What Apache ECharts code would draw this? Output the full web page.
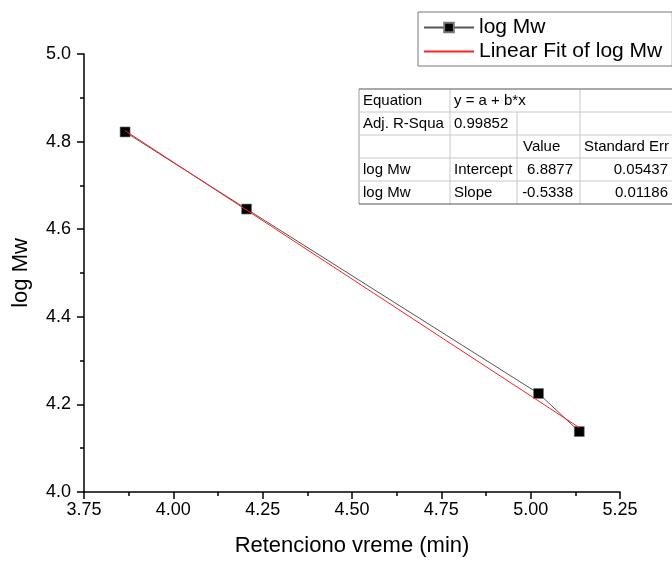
<!DOCTYPE html>
<html>
<head>
<meta charset="utf-8">
<script src="https://cdn.jsdelivr.net/npm/echarts@6/dist/echarts.min.js"></script>
<style>html,body{margin:0;padding:0;background:#fff}#c{width:672px;height:562px}</style>
</head>
<body>
<div id="c"></div>
<script>
// Data
var retentionTime = [3.865, 4.205, 5.022, 5.136];
var logMw = [4.822, 4.646, 4.225, 4.138];
var fitX = [3.865, 5.136];
var fitY = [4.825, 4.147];
var seriesNames = ['log Mw', 'Linear Fit of log Mw'];
var tableRows = [
  ['Equation', 'y = a + b*x', '', ''],
  ['Adj. R-Squa', '0.99852', '', ''],
  ['', '', 'Value', 'Standard Err'],
  ['log Mw', 'Intercept', '6.8877', '0.05437'],
  ['log Mw', 'Slope', '-0.5338', '0.01186']
];

var FONT = "'Liberation Sans', Arial, sans-serif";
var chart = echarts.init(document.getElementById('c'), null, {renderer: 'canvas'});

// Table layout
var colX = [359, 450, 517, 580, 720];
var rowY = [89, 112, 135, 158, 181, 204];
var g = [];
g.push({type: 'rect', shape: {x: colX[0], y: rowY[0], width: colX[4] - colX[0], height: rowY[5] - rowY[0]}, style: {fill: '#fff'}, z: 50});
for (var r = 0; r < rowY.length; r++) {
  var col = (r === 0 || r === rowY.length - 1) ? '#555' : '#c8c8c8';
  g.push({type: 'line', shape: {x1: colX[0], y1: rowY[r], x2: colX[4], y2: rowY[r]}, style: {stroke: col, lineWidth: 1}, z: 52});
}
[[0, 0], [1, 0], [2, 1], [3, 0]].forEach(function (v) {
  g.push({type: 'line', shape: {x1: colX[v[0]], y1: rowY[v[1]], x2: colX[v[0]], y2: rowY[5]}, style: {stroke: v[0] === 0 ? '#999' : '#c8c8c8', lineWidth: 1}, z: 51});
});
tableRows.forEach(function (row, ri) {
  row.forEach(function (txt, ci) {
    if (!txt) return;
    var isNum = ci >= 2 && !isNaN(parseFloat(txt));
    var x = isNum ? (ci === 2 ? 573 : 668) : colX[ci] + (ci === 2 ? 6 : 4);
    g.push({type: 'text', x: x, y: (rowY[ri] + rowY[ri + 1]) / 2, z: 53,
      style: {text: txt, fill: '#000', font: '15px ' + FONT, textAlign: isNum ? 'right' : 'left', textVerticalAlign: 'middle'}});
  });
});

chart.setOption({
  animation: false,
  backgroundColor: '#fff',
  grid: {left: 84, top: 54, right: 52, bottom: 67, containLabel: false},
  legend: {
    orient: 'vertical', left: 418, top: 12,
    data: [
      {name: seriesNames[0]},
      {name: seriesNames[1], itemStyle: {opacity: 0}}
    ],
    itemWidth: 50, itemHeight: 12, itemGap: 3,
    padding: [5, 10, 4, 5],
    borderColor: '#777', borderWidth: 1,
    textStyle: {fontSize: 21, color: '#000', fontFamily: FONT}
  },
  xAxis: {
    type: 'value', min: 3.75, max: 5.25, interval: 0.25,
    name: 'Retenciono vreme (min)', nameLocation: 'middle', nameGap: 43,
    nameTextStyle: {fontSize: 22, color: '#000', fontFamily: FONT},
    axisLine: {lineStyle: {color: '#000', width: 1.5}},
    axisTick: {show: true, inside: false, length: 7, lineStyle: {color: '#000', width: 1.5}},
    minorTick: {show: true, splitNumber: 2, length: 4, lineStyle: {color: '#000', width: 1.5}},
    axisLabel: {fontSize: 18, color: '#000', fontFamily: FONT, margin: 9, formatter: function (v) { return v.toFixed(2); }},
    splitLine: {show: false}
  },
  yAxis: {
    type: 'value', min: 4.0, max: 5.0, interval: 0.2,
    name: 'log Mw', nameLocation: 'middle', nameGap: 52,
    nameTextStyle: {fontSize: 22, color: '#000', fontFamily: FONT},
    axisLine: {show: true, lineStyle: {color: '#000', width: 1.5}},
    axisTick: {show: true, inside: false, length: 7, lineStyle: {color: '#000', width: 1.5}},
    minorTick: {show: true, splitNumber: 2, length: 4, lineStyle: {color: '#000', width: 1.5}},
    axisLabel: {fontSize: 18, color: '#000', fontFamily: FONT, margin: 13, formatter: function (v) { return v.toFixed(1); }},
    splitLine: {show: false}
  },
  series: [
    {
      name: seriesNames[0], type: 'line',
      data: retentionTime.map(function (x, i) { return [x, logMw[i]]; }),
      symbol: 'rect', symbolSize: 10,
      itemStyle: {color: '#000', borderColor: '#777', borderWidth: 0.6},
      lineStyle: {color: '#555', width: 1},
      z: 3
    },
    {
      name: seriesNames[1], type: 'line',
      data: fitX.map(function (x, i) { return [x, fitY[i]]; }),
      symbol: 'none',
      itemStyle: {color: '#ff2020'},
      lineStyle: {color: '#ff2020', width: 1},
      z: 4
    }
  ],
  graphic: g
});
</script>
</body>
</html>
